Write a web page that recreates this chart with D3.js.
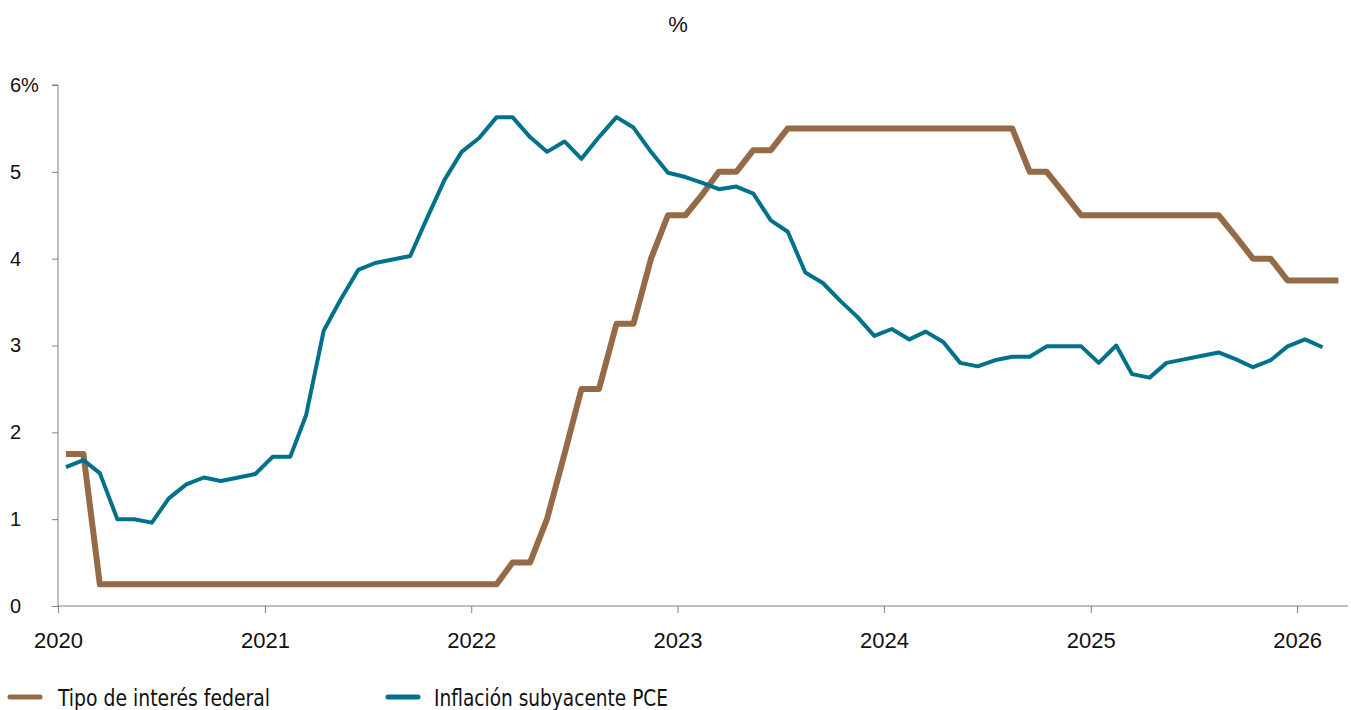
<!DOCTYPE html>
<html>
<head>
<meta charset="utf-8">
<script src="https://cdn.jsdelivr.net/npm/d3@7"></script>
<style>
  body { margin: 0; background: #fff; }
  svg { display: block; font-family: "Liberation Sans", Arial, sans-serif; }
  .axis path, .axis line { stroke: #808080; }
  .legend text { font-family: "Liberation Sans Narrow", "Arial Narrow", "DejaVu Sans Condensed", "Liberation Sans", sans-serif; }
</style>
</head>
<body>
<svg id="chart" width="1351" height="710"></svg>
<script>
// monthly series, first month Jan 2020 (points sit mid-month)
const startMonth = new Date(2020, 0, 15);

// Tipo de interés federal (upper bound), Jan 2020 - Mar 2026
const fedRate = [
  1.75, 1.75, 0.25, 0.25, 0.25, 0.25, 0.25, 0.25, 0.25, 0.25, 0.25, 0.25,
  0.25, 0.25, 0.25, 0.25, 0.25, 0.25, 0.25, 0.25, 0.25, 0.25, 0.25, 0.25,
  0.25, 0.25, 0.5, 0.5, 1.0, 1.75, 2.5, 2.5, 3.25, 3.25, 4.0, 4.5,
  4.5, 4.75, 5.0, 5.0, 5.25, 5.25, 5.5, 5.5, 5.5, 5.5, 5.5, 5.5,
  5.5, 5.5, 5.5, 5.5, 5.5, 5.5, 5.5, 5.5, 5.0, 5.0, 4.75, 4.5,
  4.5, 4.5, 4.5, 4.5, 4.5, 4.5, 4.5, 4.5, 4.25, 4.0, 4.0, 3.75,
  3.75, 3.75, 3.75
];

// Inflación subyacente PCE, Jan 2020 - Feb 2026
const corePce = [
  1.60, 1.68, 1.53, 1.00, 1.00, 0.96, 1.24, 1.40, 1.48, 1.44, 1.48, 1.52,
  1.72, 1.72, 2.20, 3.17, 3.53, 3.87, 3.95, 3.99, 4.03, 4.47, 4.91, 5.23,
  5.39, 5.63, 5.63, 5.40, 5.23, 5.35, 5.15, 5.40, 5.63, 5.51, 5.23, 4.99,
  4.94, 4.87, 4.80, 4.83, 4.75, 4.44, 4.31, 3.84, 3.72, 3.52, 3.33, 3.11,
  3.19, 3.07, 3.16, 3.04, 2.80, 2.76, 2.83, 2.87, 2.87, 2.99, 2.99, 2.99,
  2.80, 3.00, 2.67, 2.63, 2.80, 2.84, 2.88, 2.92, 2.84, 2.75, 2.83, 2.99,
  3.07, 2.98
];

const yTicks = [0, 1, 2, 3, 4, 5, 6];
const yearTicks = [2020, 2021, 2022, 2023, 2024, 2025, 2026];

const seriesNames = ['Tipo de interés federal', 'Inflación subyacente PCE'];
const seriesColors = ['#956a47', '#00718a'];

const toSeries = vals => vals.map((v, i) => ({ date: d3.timeMonth.offset(startMonth, i), v }));
const series = [
  { name: seriesNames[0], color: seriesColors[0], width: 6, data: toSeries(fedRate) },
  { name: seriesNames[1], color: seriesColors[1], width: 4, data: toSeries(corePce) }
];

const svg = d3.select('#chart');

const x = d3.scaleTime()
  .domain([new Date(2020, 0, 1), new Date(2026, 3, 1)])
  .range([58, 1348]);
const y = d3.scaleLinear().domain([0, 6]).range([606, 85]);

// title
svg.append('text')
  .attr('x', 678).attr('y', 32)
  .attr('text-anchor', 'middle')
  .style('font-size', '22px')
  .style('fill', '#111')
  .text('%');

// y axis
const yAxis = svg.append('g')
  .attr('class', 'axis')
  .attr('transform', 'translate(58,0)')
  .call(d3.axisLeft(y).tickValues(yTicks).tickSize(6).tickSizeOuter(6)
    .tickFormat(d => d === 6 ? '6%' : d));
yAxis.selectAll('text')
  .attr('text-anchor', 'start')
  .attr('x', -48)
  .style('font-size', '20px')
  .style('fill', '#111');
yAxis.select('.domain').attr('d', `M-6,${y(6)}H0V${y(0)}`);

// x axis
const xAxis = svg.append('g')
  .attr('class', 'axis')
  .attr('transform', `translate(0,${y(0)})`)
  .call(d3.axisBottom(x).tickValues(yearTicks.map(yr => new Date(yr, 0, 1)))
    .tickSize(7).tickSizeOuter(0).tickFormat(d3.timeFormat('%Y')));
xAxis.selectAll('text')
  .attr('y', 26)
  .attr('dy', '0.71em')
  .style('font-size', '22px')
  .style('fill', '#111');
xAxis.select('.domain').attr('d', `M${x.range()[0]},0H${x.range()[1]}`);

// lines
const line = d3.line().x(d => x(d.date)).y(d => y(d.v));
svg.append('g')
  .selectAll('path')
  .data(series)
  .enter()
  .append('path')
  .attr('fill', 'none')
  .attr('stroke', d => d.color)
  .attr('stroke-width', d => d.width)
  .attr('stroke-linejoin', 'round')
  .attr('d', d => line(d.data));

// legend
const legendPos = [
  { sx: 10, tx: 58, w: 212 },
  { sx: 388, tx: 434, w: 234 }
];
const legend = svg.append('g').attr('class', 'legend');
series.forEach((s, i) => {
  const p = legendPos[i];
  legend.append('line')
    .attr('x1', p.sx).attr('x2', p.sx + 30)
    .attr('y1', 697).attr('y2', 697)
    .attr('stroke', s.color)
    .attr('stroke-width', 5)
    .attr('stroke-linecap', 'round');
  legend.append('text')
    .attr('x', p.tx).attr('y', 706)
    .attr('textLength', p.w)
    .attr('lengthAdjust', 'spacingAndGlyphs')
    .style('font-size', '23px')
    .style('fill', '#111')
    .text(s.name);
});
</script>
</body>
</html>
